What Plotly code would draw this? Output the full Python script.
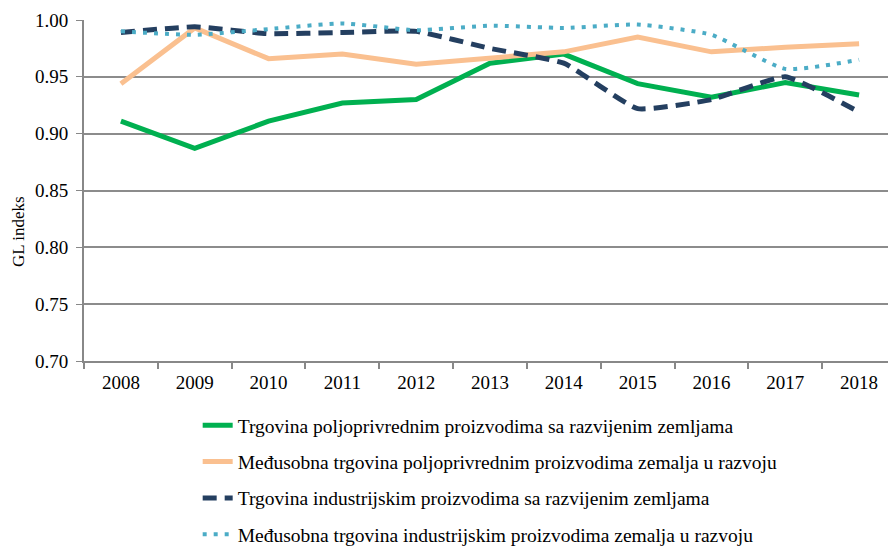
import plotly.graph_objects as go

years = ["2008", "2009", "2010", "2011", "2012", "2013", "2014", "2015", "2016", "2017", "2018"]
agri_developed = [0.911, 0.887, 0.911, 0.927, 0.930, 0.962, 0.970, 0.944, 0.932, 0.945, 0.934]
agri_developing = [0.944, 0.993, 0.966, 0.970, 0.961, 0.967, 0.972, 0.985, 0.972, 0.976, 0.979]
ind_developed = [0.989, 0.994, 0.988, 0.989, 0.990, 0.975, 0.962, 0.922, 0.930, 0.950, 0.919]
ind_developing = [0.990, 0.987, 0.992, 0.997, 0.991, 0.995, 0.993, 0.996, 0.987, 0.957, 0.965]

names = [
    "Trgovina poljoprivrednim proizvodima sa razvijenim zemljama",
    "Međusobna trgovina poljoprivrednim proizvodima zemalja u razvoju",
    "Trgovina industrijskim proizvodima sa razvijenim zemljama",
    "Međusobna trgovina industrijskim proizvodima zemalja u razvoju",
]
yticks = [0.70, 0.75, 0.80, 0.85, 0.90, 0.95, 1.00]
y_title = "GL indeks"

FONT = "Liberation Serif"

fig = go.Figure()
fig.add_trace(go.Scatter(x=years, y=agri_developed, name=names[0], mode="lines",
                         line=dict(color="#00B050", width=5), legendgroup="a"))
fig.add_trace(go.Scatter(x=years, y=agri_developing, name=names[1], mode="lines",
                         line=dict(color="#FAC090", width=5), legendgroup="b"))
fig.add_trace(go.Scatter(x=years, y=ind_developed, name=names[2], mode="lines",
                         line=dict(color="#243F60", width=5, dash="14px,8px", shape="spline", smoothing=0.4),
                         legendgroup="c"))
fig.add_trace(go.Scatter(x=years, y=ind_developing, name=names[3], mode="lines",
                         line=dict(color="#4BACC6", width=4, dash="4px,7px", shape="spline", smoothing=0.5),
                         legendgroup="d"))

fig.update_layout(
    width=888, height=539,
    margin=dict(l=76, r=0, t=12, b=186, autoexpand=False),
    paper_bgcolor="white", plot_bgcolor="white",
    font=dict(family=FONT, size=19, color="black"),
    showlegend=True,
    legend=dict(orientation="v", x=0.14, xanchor="left", y=-0.132, yanchor="top",
                font=dict(family=FONT, size=19.5), tracegroupgap=8, traceorder="grouped",
                bgcolor="rgba(0,0,0,0)"),
    xaxis=dict(type="category", showgrid=False, showline=True, linecolor="#888888", linewidth=2,
               ticks="outside", tickson="boundaries", ticklen=6, tickcolor="#888888", tickwidth=1.5,
               tickfont=dict(family=FONT, size=19), range=[-0.5, 10.5], automargin=False,
               ticklabelstandoff=3),
    yaxis=dict(range=[0.70, 1.00], tickvals=yticks, ticktext=[f"{v:.2f}" for v in yticks],
               showgrid=True, gridcolor="#8c8c8c", gridwidth=1.5, zeroline=False,
               showline=True, linecolor="#888888", linewidth=2,
               ticks="outside", ticklen=6, tickcolor="#888888",
               tickfont=dict(family=FONT, size=19), automargin=False, ticklabelstandoff=4),
    annotations=[dict(text=y_title, textangle=-90, xref="paper", yref="paper",
                      x=-0.0813, y=0.381, xanchor="center", yanchor="middle", showarrow=False,
                      font=dict(family=FONT, size=17, color="black"))],
)

fig.write_html("out.html")
